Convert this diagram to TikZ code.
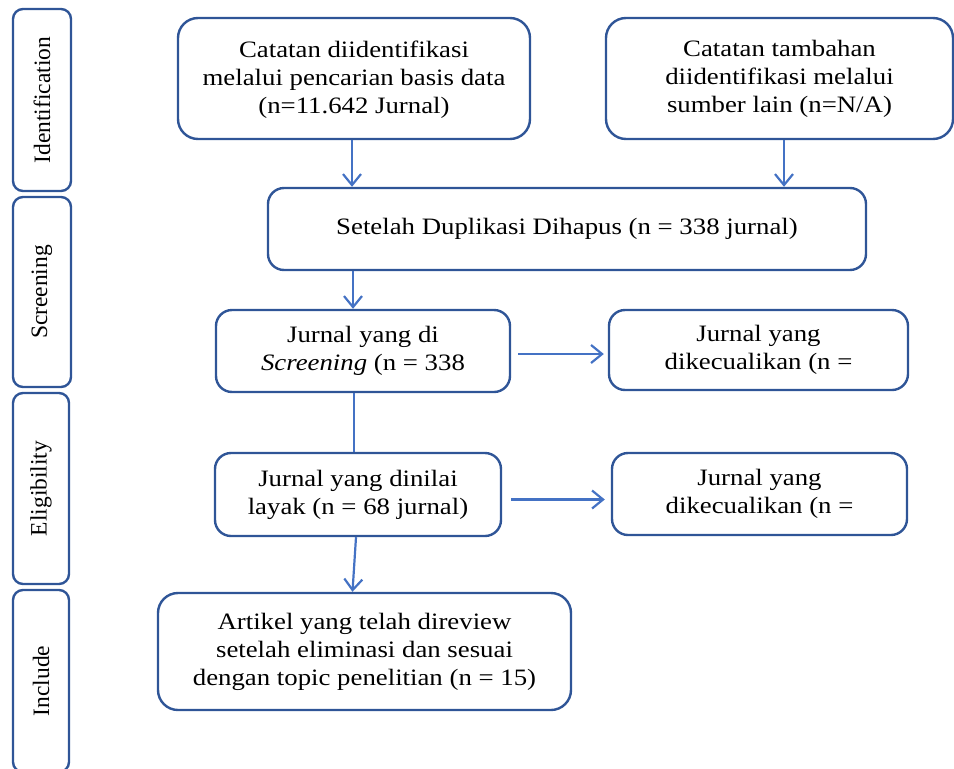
\documentclass[tikz,border=0pt]{standalone}
\usepackage{fontspec}
\setmainfont{Liberation Serif}[FakeStretch=1.14]
\newfontfamily\sidefont{Liberation Serif}
\usepackage{tikz}
\usetikzlibrary{arrows.meta,positioning}
\definecolor{boxblue}{HTML}{2F5597}
\definecolor{lineblue}{HTML}{4472C4}

\begin{document}
\begin{tikzpicture}[x=1pt,y=-1pt,
box/.style={
rectangle,
draw=boxblue,
line width=2.4pt,
rounded corners=16pt,
align=center,
inner sep=0pt,
font=\fontsize{23.5}{28}\selectfont
},
side/.style={
box,
rounded corners=10pt,
minimum width=58pt,
font=\fontsize{23.5}{28}\sidefont
},
to/.style={-{Straight Barb[length=11pt,width=18pt]},draw=lineblue,line width=2.2pt},
link/.style={draw=lineblue,line width=2.2pt}]
\useasboundingbox (0,0) rectangle (954,769);

% phases on the left
\node (ident) [side, minimum height=182pt] at (42,100) {\rotatebox{90}{Identification}};
\node (scr) [side, minimum height=190pt] at (42,292) {\rotatebox{90}{Screening}};
\node (elig) [side, minimum height=191pt, minimum width=56pt] at (41,488.5) {\rotatebox{90}{Eligibility}};
\node (incl) [side, minimum height=182pt, minimum width=56pt] at (41,681) {\rotatebox{90}{Include}};

% flow
\node (catdb) [box, rounded corners=20pt, minimum width=352pt, minimum height=121pt, text depth=3pt] at (354,78.5) {Catatan diidentifikasi\\melalui pencarian basis data\\(n=11.642 Jurnal)};
\node (catlain) [box, rounded corners=20pt, minimum width=347pt, minimum height=121pt] at (779.5,78.5) {Catatan tambahan\\diidentifikasi melalui\\sumber lain (n=N/A)};
\node (dup) [box, minimum width=598pt, minimum height=82pt] at (567,229) {Setelah Duplikasi Dihapus (n = 338 jurnal)};
\node (jscr) [box, minimum width=294pt, minimum height=82pt] at (363,351) {Jurnal yang di\\\textit{Screening} (n = 338};
\node (exc1) [box, minimum width=299pt, minimum height=80pt] at (758.5,350) {Jurnal yang\\dikecualikan (n =};
\node (jlayak) [box, minimum width=286pt, minimum height=83pt] at (358,494.5) {Jurnal yang dinilai\\layak (n = 68 jurnal)};
\node (exc2) [box, minimum width=295pt, minimum height=82pt] at (759.5,494) {Jurnal yang\\dikecualikan (n =};
\node (art) [box, rounded corners=20pt, minimum width=413pt, minimum height=117pt] at (364.5,651.5) {Artikel yang telah direview\\setelah eliminasi dan sesuai\\dengan topic penelitian (n = 15)};

\draw[to] ([xshift=-2pt]catdb.south) -- ([xshift=-2pt]catdb.south |- dup.north);
\draw[to] ([xshift=4.5pt]catlain.south) -- ([xshift=4.5pt]catlain.south |- dup.north);
\draw[to] ([xshift=-10pt]jscr.north |- dup.south) -- ([xshift=-10pt]jscr.north);
\draw[link] ([xshift=-9pt]jscr.south) -- ([xshift=-9pt]jscr.south |- jlayak.north);
\draw[to] ([xshift=-2pt]jlayak.south) -- ([xshift=-12pt]art.north);
\draw[to, shorten <=7pt, shorten >=4pt] ([yshift=-3pt]jscr.east) -- ([yshift=-3pt]jscr.east -| exc1.west);
\draw[to, shorten <=9pt, shorten >=6pt] ([yshift=-5pt]jlayak.east) -- ([yshift=-5pt]jlayak.east -| exc2.west);
\end{tikzpicture}
\end{document}
